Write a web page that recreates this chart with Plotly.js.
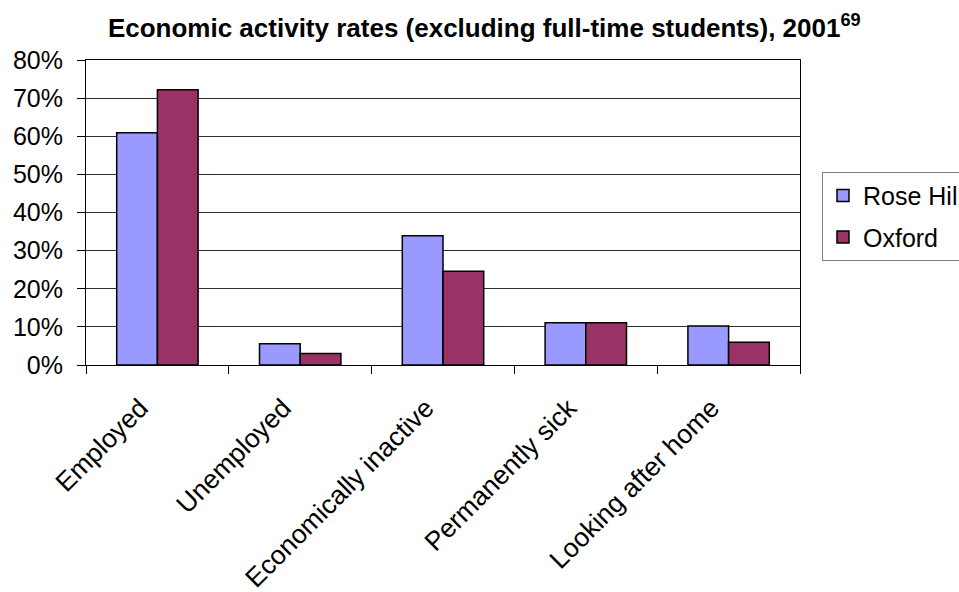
<!DOCTYPE html>
<html>
<head>
<meta charset="utf-8">
<script src="https://cdn.plot.ly/plotly-3.0.1.min.js"></script>
<style>
  html, body { margin: 0; padding: 0; background: #ffffff; }
  #chart { width: 959px; height: 592px; }
</style>
</head>
<body>
<div id="chart"></div>
<script>
// Economic activity rates (excluding full-time students), 2001 — percent of residents
const categories = ['Employed', 'Unemployed', 'Economically inactive', 'Permanently sick', 'Looking after home'];
const roseHill = [60.9, 5.6, 33.9, 11.1, 10.2];
const oxford = [72.2, 3.0, 24.6, 11.1, 6.0];
const yTicks = [0, 10, 20, 30, 40, 50, 60, 70, 80];

const FONT = 'Liberation Sans, Arial, sans-serif';

const traces = [
  {
    type: 'bar', name: 'Rose Hill', x: categories, y: roseHill, legendgroup: 'a',
    marker: { color: '#9999FF', line: { color: '#000000', width: 1.5 } }
  },
  {
    type: 'bar', name: 'Oxford', x: categories, y: oxford, legendgroup: 'b',
    marker: { color: '#993366', line: { color: '#000000', width: 1.5 } }
  }
];

const layout = {
  width: 959, height: 592,
  paper_bgcolor: '#ffffff', plot_bgcolor: '#ffffff',
  margin: { l: 86, r: 159, t: 60, b: 227, autoexpand: false },
  font: { family: FONT, size: 25, color: '#000000' },
  title: {
    text: '<b>Economic activity rates (excluding full-time students), 2001<sup>69</sup></b>',
    font: { family: FONT, size: 26, color: '#000000' },
    xref: 'container', yref: 'container',
    x: 0.505, xanchor: 'center', y: 0.953, yanchor: 'middle'
  },
  barmode: 'group', bargap: 0.43, bargroupgap: 0,
  xaxis: {
    type: 'category', tickangle: -45, tickson: 'boundaries',
    ticks: 'outside', ticklen: 8, tickcolor: '#000000', tickwidth: 1,
    showline: true, linecolor: '#000000', linewidth: 1, mirror: true,
    showgrid: false, tickfont: { family: FONT, size: 26.5 },
    ticklabelstandoff: 16, ticklabelshift: -17
  },
  yaxis: {
    range: [0, 80], tickvals: yTicks, ticktext: yTicks.map(v => v + '%'),
    ticks: 'outside', ticklen: 8, tickcolor: '#000000', tickwidth: 1,
    showline: true, linecolor: '#000000', linewidth: 1, mirror: true,
    showgrid: true, gridcolor: '#303030', gridwidth: 1, zeroline: false,
    tickfont: { family: FONT, size: 25 },
    ticklabelstandoff: 9
  },
  showlegend: true,
  legend: {
    x: 1.0308, xanchor: 'left', y: 0.634, yanchor: 'top',
    bordercolor: '#808080', borderwidth: 1, bgcolor: '#ffffff',
    font: { family: FONT, size: 25 },
    traceorder: 'grouped', tracegroupgap: 6
  }
};

Plotly.newPlot('chart', traces, layout, { staticPlot: true, displayModeBar: false });
</script>
</body>
</html>
